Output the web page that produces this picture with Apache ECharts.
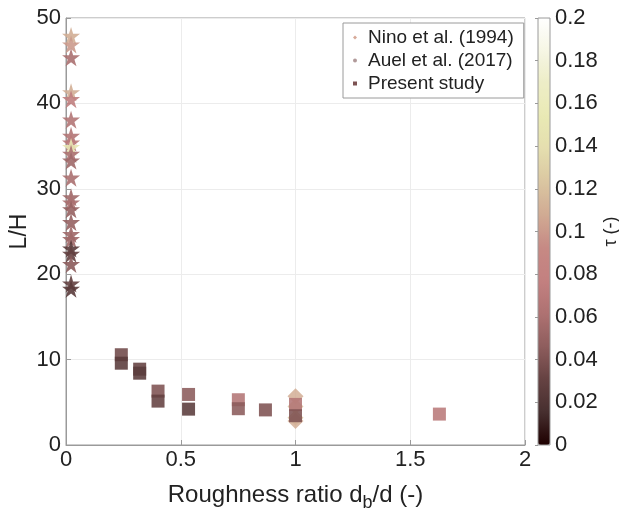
<!DOCTYPE html>
<html><head><meta charset="utf-8">
<script src="https://cdn.jsdelivr.net/npm/echarts@6/dist/echarts.min.js"></script>
<style>html,body{margin:0;padding:0;background:#fff}#c{width:619px;height:512px}</style>
</head><body><div id="c"></div>
<script>
// Auel et al. (2017) - stars
const auelX = [0.022,0.022,0.022,0.022,0.022,0.022,0.022,0.022,0.022,0.022,0.022,0.022,0.022,0.022,0.022,0.022,0.022,0.022,0.022,0.022,0.022,0.022,0.022];
const auelY = [47.9,46.9,45.4,41.3,40.5,38.1,36.2,35.4,34.9,34.1,33.3,31.3,29.0,28.4,27.6,26.1,24.7,24.1,23.0,22.4,21.2,18.9,18.3];
const auelTau = [0.11,0.10,0.06,0.11,0.075,0.065,0.065,0.07,0.15,0.06,0.055,0.06,0.055,0.06,0.05,0.05,0.055,0.055,0.025,0.03,0.045,0.03,0.025];
// Nino et al. (1994) - diamonds
const ninoX = [1.0,1.0,1.0,1.0];
const ninoY = [5.7,4.5,3.2,2.8];
const ninoTau = [0.11,0.12,0.12,0.11];
// Present study - squares
const presentX = [0.241,0.241,0.321,0.321,0.401,0.401,0.534,0.534,0.751,0.751,0.869,1.0,1.0,1.627];
const presentY = [10.57,9.58,8.88,8.41,6.31,5.14,5.92,4.2,5.3,4.25,4.11,4.75,3.43,3.62];
const presentTau = [0.035,0.025,0.03,0.025,0.04,0.03,0.045,0.025,0.065,0.045,0.04,0.065,0.04,0.07];
// colour-bar ticks
const tauTicks = [0,0.02,0.04,0.06,0.08,0.1,0.12,0.14,0.16,0.18,0.2];
const xTicks = [0,0.5,1,1.5,2];
const yTicks = [0,10,20,30,40,50];

const pinkMap = ['#1e0000','#472f2f','#654242','#8e5d5d','#ae7272','#c38080','#c68984','#d0aa93','#dac6a1','#e4deae','#e9e9b4','#ededc6','#f6f6e4','#ffffff'];
const zip = (xs, ys, ts) => xs.map((x, i) => [x, ys[i], ts[i]]);
const FONT = 'Liberation Sans, Arial, Helvetica, sans-serif';
const star = 'path://M50,0 L61,35 L98,35 L68,57 L79,91 L50,70 L21,91 L32,57 L2,35 L39,35 Z';

const chart = echarts.init(document.getElementById('c'), null, {renderer: 'canvas'});
chart.setOption({
  animation: false,
  textStyle: {fontFamily: FONT},
  grid: [
    {left: 66, right: 94, top: 18, bottom: 67, containLabel: false, outerBoundsMode: 'none', show: true, borderColor: '#9a9a9a', borderWidth: 1, backgroundColor: '#fff'},
    {left: 538, width: 12, top: 18, bottom: 67, containLabel: false, outerBoundsMode: 'none', show: true, borderColor: '#9a9a9a', borderWidth: 1, backgroundColor: 'transparent', z: 10}
  ],
  xAxis: [
    {gridIndex: 0, type: 'value', min: xTicks[0], max: xTicks[xTicks.length - 1], interval: 0.5,
     axisLine: {show: true, lineStyle: {color: '#9a9a9a'}},
     axisTick: {show: true, inside: true, length: 5, lineStyle: {color: '#9a9a9a'}},
     splitLine: {show: true, lineStyle: {color: '#ececec'}},
     axisLabel: {fontSize: 22, color: '#222', margin: 4, fontFamily: FONT},
     name: '{a|Roughness ratio d}{s|b}{a|/d (-)}', nameLocation: 'middle', nameGap: 33,
     nameTextStyle: {rich: {a: {fontSize: 24, color: '#222', fontFamily: FONT}, s: {fontSize: 18, color: '#222', padding: [16, 0, 0, 0], fontFamily: FONT}}}},
    {gridIndex: 1, type: 'value', min: 0, max: 1, show: false}
  ],
  yAxis: [
    {gridIndex: 0, type: 'value', min: yTicks[0], max: yTicks[yTicks.length - 1], interval: 10,
     axisLine: {show: true, lineStyle: {color: '#9a9a9a'}},
     axisTick: {show: true, inside: true, length: 5, lineStyle: {color: '#9a9a9a'}},
     splitLine: {show: true, lineStyle: {color: '#ececec'}},
     axisLabel: {fontSize: 22, color: '#222', margin: 5, fontFamily: FONT},
     name: 'L/H', nameLocation: 'middle', nameGap: 35, nameMoveOverlap: false,
     nameTextStyle: {fontSize: 23, color: '#222', fontFamily: FONT}},
    {gridIndex: 1, type: 'value', position: 'right', min: tauTicks[0], max: tauTicks[tauTicks.length - 1], interval: 0.02,
     axisLine: {show: false},
     axisTick: {show: true, inside: true, length: 3, lineStyle: {color: '#9a9a9a'}},
     splitLine: {show: false},
     axisLabel: {fontSize: 22, color: '#222', margin: 5, fontFamily: FONT},
     name: 'τ (-)', nameLocation: 'middle', nameGap: 50, nameRotate: 90,
     nameTextStyle: {fontSize: 18, color: '#222', fontFamily: FONT}}
  ],
  visualMap: {
    type: 'continuous', min: 0, max: 0.2, dimension: 2, seriesIndex: [0, 1, 2],
    inRange: {color: pinkMap}, calculable: false, realtime: false, hoverLink: false,
    left: 538, top: 18, itemWidth: 12, itemHeight: 427, text: null, show: true,
    orient: 'vertical', padding: 0, textStyle: {color: 'transparent'}
  },
  legend: {
    show: true, orient: 'vertical', left: 343, top: 23, width: 177,
    backgroundColor: '#fff', borderColor: '#9a9a9a', borderWidth: 1,
    padding: [5, 10, 5, 10], itemGap: 4, itemWidth: 4, itemHeight: 4,
    textStyle: {fontSize: 19, color: '#222', fontFamily: FONT, padding: [0, 0, 0, 6]},
    data: [
      {name: 'Nino et al. (1994)', icon: 'diamond', itemStyle: {color: '#cf9a86'}},
      {name: 'Auel et al. (2017)', icon: 'circle', itemStyle: {color: '#a88f8f'}},
      {name: 'Present study', icon: 'rect', itemStyle: {color: '#6b3b3b'}}
    ]
  },
  series: [
    {name: 'Nino et al. (1994)', type: 'scatter', xAxisIndex: 0, yAxisIndex: 0, symbol: 'diamond', symbolSize: 16,
     itemStyle: {opacity: 0.85}, data: zip(ninoX, ninoY, ninoTau), z: 3},
    {name: 'Auel et al. (2017)', type: 'scatter', xAxisIndex: 0, yAxisIndex: 0, symbol: star, symbolSize: 18,
     itemStyle: {opacity: 0.9}, data: zip(auelX, auelY, auelTau), z: 4},
    {name: 'Present study', type: 'scatter', xAxisIndex: 0, yAxisIndex: 0, symbol: 'rect', symbolSize: 13,
     itemStyle: {opacity: 0.88}, data: zip(presentX, presentY, presentTau), z: 5}
  ]
});
</script></body></html>
